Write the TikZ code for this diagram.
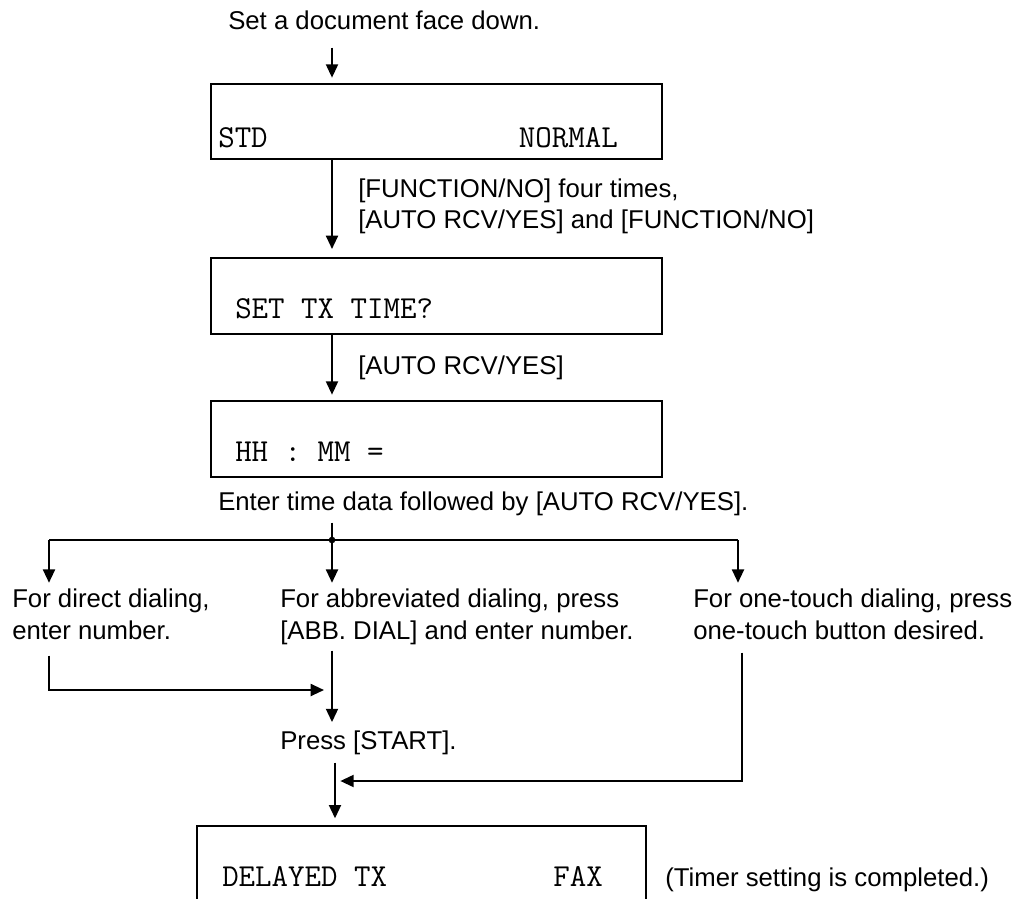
\documentclass[tikz,border=0pt]{standalone}
\usepackage{fontspec}
\setmainfont{Liberation Sans}
\usetikzlibrary{arrows.meta,calc}
\begin{document}
\begin{tikzpicture}[x=0.75pt,y=-0.75pt,
  line/.style={line width=1.5pt},
  arr/.style={line, -{Triangle[length=10pt,width=9pt]}, shorten >=4pt},
  box/.style={draw, line width=1.5pt, rectangle, inner sep=0pt, minimum width=338.25pt},
  lbl/.style={inner sep=0pt, anchor=base west, font=\fontsize{19.3pt}{23pt}\selectfont},
  lcd/.style={inner sep=0pt, anchor=base west, font=\fontsize{24pt}{26pt}\selectfont\ttfamily},
]
\clip (0,0) rectangle (1031,899);
% boxes
\node[box, minimum height=56.25pt] (b1) at (436.5,121.5) {};
\node[box, minimum height=57pt] (b2) at (436.5,296) {};
\node[box, minimum height=57pt] (b3) at (436.5,439) {};
\node[box, minimum width=336.75pt, minimum height=57pt] (b4) at (421.5,864) {};
% display texts
\node[lcd] (std) at (218,147) {STD};
\node[lcd, anchor=base east] (nrm) at (618,147) {NORMAL};
\node[lcd] (stt) at (235,318) {SET TX TIME?};
\node[lcd] (hhm) at (235,461) {HH : MM =};
\node[lcd] (dtx) at (222,886) {DELAYED TX};
\node[lcd, anchor=base east] (fax) at (603,886) {FAX};
% labels
\node[lbl] (t0) at (228,30) {Set a document face down.};
\node[lbl] (l1a) at (358,197) {[FUNCTION/NO] four times,};
\node[lbl] (l1b) at (358,228) {[AUTO RCV/YES] and [FUNCTION/NO]};
\node[lbl] (l2) at (358,374) {[AUTO RCV/YES]};
\node[lbl] (t3) at (218,510) {Enter time data followed by [AUTO RCV/YES].};
\node[lbl] (d1a) at (12,607) {For direct dialing,};
\node[lbl] (d1b) at (12,639) {enter number.};
\node[lbl] (d2a) at (280,607) {For abbreviated dialing, press};
\node[lbl] (d2b) at (280,639) {[ABB. DIAL] and enter number.};
\node[lbl] (d3a) at (693,607) {For one-touch dialing, press};
\node[lbl] (d3b) at (693,639) {one-touch button desired.};
\node[lbl] (ps) at (280,749) {Press [START].};
\node[lbl] (tm) at (665,886) {(Timer setting is completed.)};
% helper coordinates
\coordinate (xM) at (332,0);
\coordinate (xN) at (335,0);
\coordinate (j) at (332,540);
\coordinate (jL) at (49,540);
\coordinate (jR) at (738,540);
\coordinate (c1) at (49,690);
\coordinate (c3) at (742,781);
% connectors
\draw[arr] ($(t0.south -| xM)+(0,17)$) -- (b1.north -| xM);
\draw[arr, shorten >=6pt] (b1.south -| xM) -- (b2.north -| xM);
\draw[arr] (b2.south -| xM) -- (b3.north -| xM);
\draw[line] ($(t3.south -| xM)+(0,7)$) -- (j);
\draw[line] (jL) -- (jR);
\fill (j) circle (2.5pt);
\draw[arr] (jL) -- (d1a.north -| jL);
\draw[arr] (j) -- (d2a.north -| xM);
\draw[arr] (jR) -- (d3a.north -| jR);
\draw[arr, shorten >=6pt] ($(d1b.south -| c1)+(0,16)$) -- (c1) -- (c1 -| xM);
\draw[arr, shorten >=6pt] ($(d2b.south -| xM)+(0,6)$) -- (ps.north -| xM);
\draw[arr, shorten >=5pt] ($(ps.south -| xN)+(0,8)$) -- (b4.north -| xN);
\draw[arr] ($(d3b.south -| c3)+(0,13)$) -- (c3) -- (c3 -| xN);
\end{tikzpicture}
\end{document}
